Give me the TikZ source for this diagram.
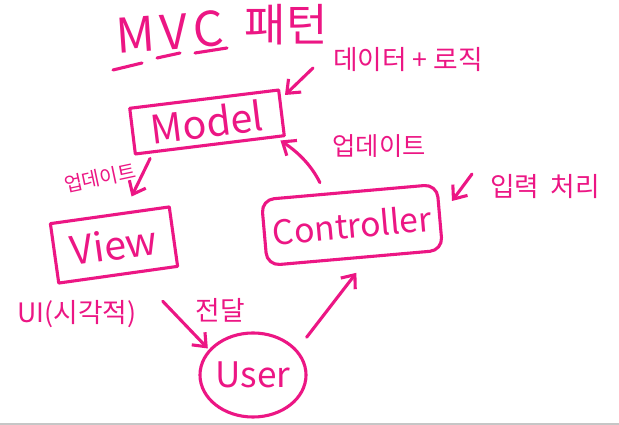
\documentclass[tikz,border=0pt]{standalone}
\usepackage{fontspec}
\setmainfont{Noto Sans CJK KR}
\usetikzlibrary{positioning}
\usetikzlibrary{arrows.meta}
\usetikzlibrary{shapes.geometric}
\definecolor{marker}{RGB}{236,22,132}

\begin{document}
\begin{tikzpicture}[x=0.025cm, y=-0.025cm,
  pen/.style={marker, line width=2.2pt, line cap=round, line join=round},
  box/.style={pen, draw, rectangle, inner sep=0pt},
  note/.style={marker, inner sep=0pt},
  arr/.style={pen, -{Straight Barb[length=8pt,width=13pt]}}]

\useasboundingbox (0,0) rectangle (619,425);
\fill[white] (0,0) rectangle (619,425);
\draw[gray!45, line width=1.5pt] (0,424) -- (619,424);

% title
\node[note, rotate=4, font=\fontsize{34}{34}\selectfont] (mvc) at (170,32) {M\kern4pt V\kern4pt C};
\node[note, font=\fontsize{32}{32}\selectfont] (pattern) at (286,25) {패턴};
\draw[pen] (113,70) -- (142,63);
\draw[pen] (157,58) -- (180,53);
\draw[pen] (195,53) -- (227,48);

% boxes
\node[box, rotate=7, minimum width=3.75cm, minimum height=1.15cm,
  font=\fontsize{28}{28}\selectfont] (model) at (207,122) {Model};
\node[box, rotate=8, minimum width=3cm, minimum height=1.5cm,
  font=\fontsize{28}{28}\selectfont] (view) at (114,245) {View};
\node[box, rotate=5, rounded corners=9pt, minimum width=4.4cm, minimum height=1.65cm,
  font=\fontsize{24}{24}\selectfont] (controller) at (352,225) {Controller};
\node[pen, draw, ellipse, inner sep=0pt, minimum width=2.65cm, minimum height=2.1cm,
  font=\fontsize{25}{25}\selectfont] (user) at (253,375) {User};

% notes
\node[note, font=\fontsize{19}{19}\selectfont] (logic) at (408,60) {데이터 + 로직};
\node[note, font=\fontsize{18}{18}\selectfont] (updateright) at (379,146) {업데이트};
\node[note, font=\fontsize{19}{19}\selectfont] (input) at (545,187) {입력\kern8pt 처리};
\node[note, rotate=12, font=\fontsize{14}{14}\selectfont] (updateleft) at (100,178) {업데이트};
\node[note, font=\fontsize{19}{19}\selectfont] (ui) at (77,314) {UI(시각적)};
\node[note, font=\fontsize{19}{19}\selectfont] (deliver) at (220,310) {전달};

\coordinate (logictail) at (313,68);
\coordinate (logictip) at (285,95);
\coordinate (inputtail) at (472,174);
\coordinate (inputtip) at (452,201);

% arrows
\draw[arr] (logictail) -- (logictip);
\draw[arr] (inputtail) -- (inputtip);
\draw[arr, shorten <=8pt, shorten >=3pt] (controller.125) to[bend right=15] (model.-20);
\draw[arr, shorten <=4pt, shorten >=12pt] (model.-157) -- (view.65);
\draw[arr, shorten <=27pt, shorten >=1pt] (view.-60) -- (user.150);
\draw[arr, shorten <=11pt, shorten >=13pt] (user.30) -- (controller.-70);

\end{tikzpicture}
\end{document}
